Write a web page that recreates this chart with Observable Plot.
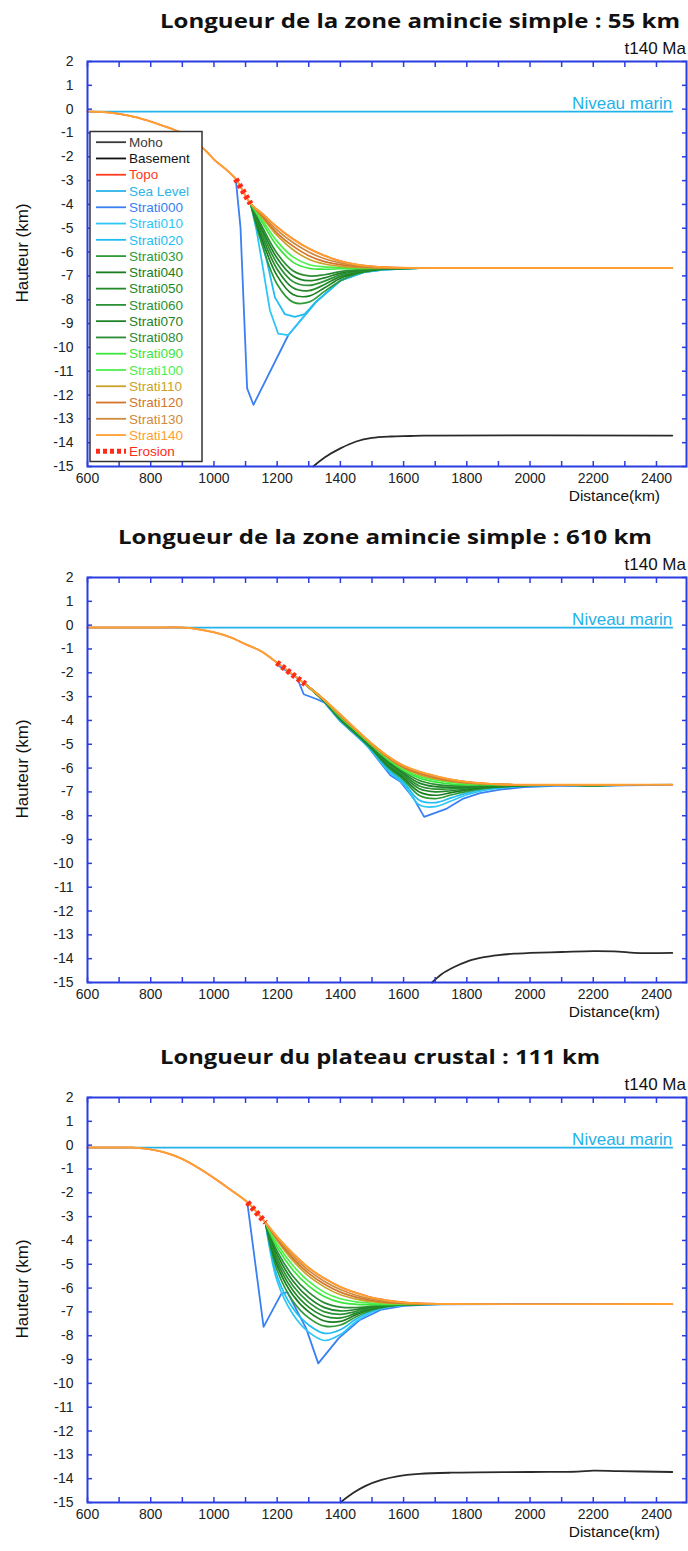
<!DOCTYPE html>
<html><head><meta charset="utf-8">
<script src="https://cdn.jsdelivr.net/npm/d3@7"></script>
<script src="https://cdn.jsdelivr.net/npm/@observablehq/plot@0.6"></script>
<style>
body{margin:0;background:#fff;width:688px;height:1551px;overflow:hidden;position:relative;font-family:"Liberation Sans",Arial,sans-serif}
.chart{position:absolute;left:0}
</style></head><body>
<div id="c1" class="chart" style="top:0px"></div>
<div id="c2" class="chart" style="top:516px"></div>
<div id="c3" class="chart" style="top:1036px"></div>
<script>
// ---------- shared categories ----------
const strataNames = ["Strati000","Strati010","Strati020","Strati030","Strati040","Strati050","Strati060","Strati070","Strati080","Strati090","Strati100","Strati110","Strati120","Strati130","Strati140"];
const strataColors = ["#3a80f2","#2ec6f7","#1fbdf0","#2e9a38","#1a7e20","#238a2a","#2a9234","#1d8326","#2b8c34","#3ae63a","#4cf04c","#c9a227","#d3762c","#cf8a3c","#ffa030"];
const legendNames = ["Moho","Basement","Topo","Sea Level"].concat(strataNames, ["Erosion"]);
const legendColors = ["#3a3a3a","#111111","#ff3b1f","#2ab4e8"].concat(strataColors, ["#ff2a1a"]);
const yTicks = [2,1,0,-1,-2,-3,-4,-5,-6,-7,-8,-9,-10,-11,-12,-13,-14,-15];
const xMinorTicks = [600,700,800,900,1000,1100,1200,1300,1400,1500,1600,1700,1800,1900,2000,2100,2200,2300,2400];
const xLabelTicks = [600,800,1000,1200,1400,1600,1800,2000,2200,2400];
const seaX = [600, 2450];
const seaY = [-0.1, -0.1];
const seaLabel = [{x: 2450, y: -0.1, t: "Niveau marin"}];

// ---------- chart 1 ----------
const c1Title = "Longueur de la zone amincie simple : 55 km";
const c1TopoLeftX = [600,650,700,750,800,850,890,940,978,1003,1040,1069];
const c1TopoLeftY = [-0.1,-0.12,-0.2,-0.33,-0.52,-0.75,-0.95,-1.35,-1.8,-2.15,-2.55,-2.93];
const c1ErosionX = [1069,1116];
const c1ErosionY = [-2.93,-3.97];
const c1S000X = [1069,1084,1105,1125,1235,1323,1401,1474,1537,1650,2450];
const c1S000Y = [-2.93,-4.96,-11.72,-12.41,-9.49,-8.09,-7.19,-6.84,-6.74,-6.67,-6.67];
const c1S010X = [1116,1135,1151,1177,1203,1235,1323,1401,1474,1537,1650];
const c1S010Y = [-3.97,-5.1,-6.35,-8.44,-9.42,-9.49,-8.09,-7.19,-6.84,-6.74,-6.67];
const c1S020X = [1116,1140,1167,1193,1224,1256,1287,1323,1401,1474,1537,1650];
const c1S020Y = [-3.97,-5.0,-6.35,-7.9,-8.6,-8.72,-8.6,-8.09,-7.19,-6.84,-6.74,-6.67];
const c1GridX = [1116,1150,1200,1250,1300,1350,1400,1450,1500,1550,1600,1650,1700,1750];
const c1S030 = [-3.97,-5.6,-7.35,-8.1,-8.1,-7.65,-7.2,-6.92,-6.78,-6.71,-6.68,-6.67,-6.67,-6.67];
const c1S040 = [-3.97,-5.4,-7.0,-7.78,-7.85,-7.5,-7.1,-6.88,-6.76,-6.7,-6.68,-6.67,-6.67,-6.67];
const c1S050 = [-3.97,-5.25,-6.72,-7.5,-7.62,-7.36,-7.02,-6.85,-6.75,-6.7,-6.68,-6.67,-6.67,-6.67];
const c1S060 = [-3.97,-5.1,-6.48,-7.24,-7.4,-7.22,-6.95,-6.82,-6.73,-6.69,-6.68,-6.67,-6.67,-6.67];
const c1S070 = [-3.97,-4.98,-6.26,-7.0,-7.2,-7.08,-6.88,-6.78,-6.72,-6.69,-6.67,-6.67,-6.67,-6.67];
const c1S080 = [-3.97,-4.87,-6.06,-6.78,-7.0,-6.95,-6.82,-6.75,-6.71,-6.68,-6.67,-6.67,-6.67,-6.67];
const c1S090 = [-3.97,-4.7,-5.75,-6.42,-6.68,-6.72,-6.7,-6.69,-6.68,-6.67,-6.67,-6.67,-6.67,-6.67];
const c1S100 = [-3.97,-4.6,-5.55,-6.2,-6.52,-6.62,-6.65,-6.66,-6.67,-6.67,-6.67,-6.67,-6.67,-6.67];
const c1S110 = [-3.97,-4.5,-5.3,-5.9,-6.3,-6.5,-6.6,-6.64,-6.66,-6.67,-6.67,-6.67,-6.67,-6.67];
const c1S120 = [-3.97,-4.45,-5.2,-5.75,-6.15,-6.4,-6.53,-6.6,-6.64,-6.66,-6.67,-6.67,-6.67,-6.67];
const c1S130 = [-3.97,-4.4,-5.08,-5.6,-6.0,-6.28,-6.45,-6.56,-6.62,-6.65,-6.66,-6.67,-6.67,-6.67];
const c1S140 = [-3.97,-4.35,-4.95,-5.45,-5.85,-6.15,-6.38,-6.52,-6.6,-6.64,-6.66,-6.67,-6.67,-6.67];
const c1MohoX = [1314,1350,1400,1450,1500,1560,1620,1660,2450];
const c1MohoY = [-15,-14.62,-14.24,-13.95,-13.8,-13.74,-13.72,-13.7,-13.7];

// ---------- chart 2 ----------
const c2Title = "Longueur de la zone amincie simple : 610 km";
const c2TopoLeftX = [600,700,800,900,950,1000,1050,1100,1150,1199];
const c2TopoLeftY = [-0.1,-0.1,-0.1,-0.1,-0.17,-0.3,-0.5,-0.8,-1.1,-1.57];
const c2ErosionX = [1199,1289];
const c2ErosionY = [-1.57,-2.48];
const c2S000X = [1199,1207,1263,1284,1326,1350,1400,1484,1558,1589,1631,1665,1737,1789,1842,1905,1980,2100,2200,2300,2450];
const c2S000Y = [-1.57,-1.72,-2.2,-2.9,-3.11,-3.25,-4.04,-5.05,-6.3,-6.56,-7.25,-8.05,-7.7,-7.28,-7.05,-6.9,-6.8,-6.74,-6.76,-6.72,-6.7];
const c2GridX = [1289,1347,1400,1450,1500,1550,1600,1650,1700,1750,1800,1850,1900,1950,2000,2100,2200,2300];
const c2S010 = [-2.48,-3.2,-4.02,-4.62,-5.3,-6.1,-6.68,-7.55,-7.62,-7.38,-7.12,-6.95,-6.85,-6.78,-6.74,-6.72,-6.74,-6.71];
const c2S020 = [-2.48,-3.19,-4.0,-4.6,-5.26,-6.03,-6.6,-7.35,-7.45,-7.25,-7.05,-6.9,-6.82,-6.77,-6.74,-6.72,-6.74,-6.71];
const c2S030 = [-2.48,-3.18,-3.98,-4.58,-5.22,-5.96,-6.5,-7.15,-7.28,-7.13,-6.98,-6.86,-6.8,-6.76,-6.73,-6.72,-6.74,-6.71];
const c2S040 = [-2.48,-3.17,-3.96,-4.56,-5.19,-5.9,-6.42,-7.0,-7.14,-7.03,-6.92,-6.82,-6.78,-6.75,-6.73,-6.71,-6.73,-6.7];
const c2S050 = [-2.48,-3.16,-3.94,-4.54,-5.16,-5.84,-6.35,-6.87,-7.0,-6.95,-6.87,-6.79,-6.76,-6.74,-6.72,-6.71,-6.73,-6.7];
const c2S060 = [-2.48,-3.15,-3.92,-4.52,-5.13,-5.78,-6.28,-6.75,-6.88,-6.87,-6.83,-6.77,-6.74,-6.73,-6.72,-6.71,-6.72,-6.7];
const c2S070 = [-2.48,-3.14,-3.9,-4.5,-5.1,-5.73,-6.22,-6.63,-6.78,-6.8,-6.79,-6.75,-6.73,-6.72,-6.71,-6.7,-6.72,-6.7];
const c2S080 = [-2.48,-3.14,-3.88,-4.48,-5.08,-5.68,-6.16,-6.52,-6.68,-6.74,-6.76,-6.73,-6.72,-6.72,-6.71,-6.7,-6.71,-6.7];
const c2S090 = [-2.48,-3.13,-3.86,-4.46,-5.06,-5.64,-6.1,-6.42,-6.58,-6.67,-6.7,-6.7,-6.7,-6.71,-6.7,-6.7,-6.7,-6.7];
const c2S100 = [-2.48,-3.13,-3.84,-4.44,-5.04,-5.6,-6.05,-6.35,-6.5,-6.6,-6.66,-6.68,-6.69,-6.7,-6.7,-6.7,-6.7,-6.7];
const c2S110 = [-2.48,-3.12,-3.82,-4.42,-5.02,-5.57,-6.0,-6.28,-6.45,-6.56,-6.63,-6.66,-6.68,-6.7,-6.7,-6.7,-6.7,-6.7];
const c2S120 = [-2.48,-3.12,-3.8,-4.41,-5.0,-5.54,-5.96,-6.22,-6.4,-6.53,-6.61,-6.65,-6.68,-6.7,-6.7,-6.7,-6.7,-6.7];
const c2S130 = [-2.48,-3.11,-3.78,-4.4,-4.99,-5.52,-5.93,-6.18,-6.36,-6.5,-6.6,-6.65,-6.68,-6.7,-6.7,-6.7,-6.7,-6.7];
const c2S140 = [-2.48,-3.11,-3.75,-4.38,-4.98,-5.5,-5.9,-6.15,-6.33,-6.48,-6.58,-6.64,-6.68,-6.7,-6.7,-6.7,-6.7,-6.7];
const c2MohoX = [1690,1720,1760,1800,1850,1900,1950,2000,2100,2200,2280,2330,2450];
const c2MohoY = [-15,-14.65,-14.35,-14.12,-13.95,-13.85,-13.79,-13.76,-13.72,-13.68,-13.7,-13.76,-13.76];

// ---------- chart 3 ----------
const c3Title = "Longueur du plateau crustal : 111 km";
const c3TopoLeftX = [600,700,740,800,850,900,950,1000,1050,1106];
const c3TopoLeftY = [-0.1,-0.1,-0.1,-0.18,-0.33,-0.58,-0.95,-1.38,-1.85,-2.4];
const c3ErosionX = [1106,1163];
const c3ErosionY = [-2.4,-3.25];
const c3S000X = [1106,1157,1213,1232,1292,1330,1395,1460,1530,1600,1700,2450];
const c3S000Y = [-2.45,-7.63,-6.24,-6.17,-7.7,-9.16,-8.1,-7.35,-6.9,-6.75,-6.68,-6.67];
const c3GridX = [1163,1200,1250,1300,1350,1400,1450,1500,1550,1600,1650,1700,1750];
const c3S010 = [-3.25,-5.7,-7.1,-7.85,-8.2,-7.95,-7.4,-7.0,-6.8,-6.72,-6.69,-6.68,-6.67];
const c3S020 = [-3.25,-5.5,-6.85,-7.55,-7.9,-7.75,-7.3,-6.95,-6.78,-6.71,-6.69,-6.68,-6.67];
const c3S030 = [-3.25,-5.25,-6.55,-7.25,-7.6,-7.55,-7.2,-6.92,-6.77,-6.7,-6.68,-6.67,-6.67];
const c3S040 = [-3.25,-5.05,-6.3,-7.0,-7.38,-7.4,-7.12,-6.88,-6.75,-6.7,-6.68,-6.67,-6.67];
const c3S050 = [-3.25,-4.9,-6.1,-6.8,-7.18,-7.25,-7.05,-6.85,-6.74,-6.69,-6.68,-6.67,-6.67];
const c3S060 = [-3.25,-4.75,-5.9,-6.6,-7.0,-7.1,-6.98,-6.82,-6.73,-6.69,-6.68,-6.67,-6.67];
const c3S070 = [-3.25,-4.6,-5.7,-6.4,-6.82,-6.96,-6.9,-6.79,-6.72,-6.69,-6.67,-6.67,-6.67];
const c3S080 = [-3.25,-4.45,-5.5,-6.18,-6.62,-6.8,-6.82,-6.76,-6.71,-6.68,-6.67,-6.67,-6.67];
const c3S090 = [-3.25,-4.28,-5.25,-5.92,-6.36,-6.6,-6.68,-6.7,-6.69,-6.68,-6.67,-6.67,-6.67];
const c3S100 = [-3.25,-4.15,-5.05,-5.72,-6.18,-6.45,-6.58,-6.64,-6.66,-6.67,-6.67,-6.67,-6.67];
const c3S110 = [-3.25,-4.0,-4.85,-5.5,-5.96,-6.28,-6.46,-6.57,-6.63,-6.65,-6.66,-6.67,-6.67];
const c3S120 = [-3.25,-3.95,-4.75,-5.38,-5.84,-6.17,-6.38,-6.52,-6.6,-6.64,-6.66,-6.67,-6.67];
const c3S130 = [-3.25,-3.9,-4.65,-5.27,-5.72,-6.06,-6.3,-6.46,-6.56,-6.62,-6.65,-6.67,-6.67];
const c3S140 = [-3.25,-3.85,-4.55,-5.15,-5.6,-5.95,-6.2,-6.4,-6.52,-6.6,-6.64,-6.66,-6.67];
const c3MohoX = [1400,1440,1480,1530,1580,1650,1750,2000,2150,2200,2280,2450];
const c3MohoY = [-15,-14.6,-14.3,-14.05,-13.9,-13.8,-13.75,-13.72,-13.7,-13.66,-13.68,-13.72];

// ---------- drawing ----------
const frameBlue = "#2a3de0";
const seaColor = "#22b2e8";

function pts(xs, ys, name) { return xs.map((x, i) => ({x, y: ys[i], name})); }

function buildChart(el, cfg) {
  const linearRows = [];
  cfg.custom.forEach(c => linearRows.push(...pts(c.x, c.y, c.name)));
  const gridRows = [];
  cfg.grid.forEach(g => gridRows.push(...pts(cfg.gridX, g.y, g.name)));
  const s140 = cfg.grid[cfg.grid.length - 1].y;
  const topX = cfg.topoLeftX.concat(cfg.gridX, [2450]);
  const topY = cfg.topoLeftY.concat(s140, [s140[s140.length - 1]]);
  const topRows = pts(topX, topY, "Strati140");
  const lowerGrid = gridRows.filter(d => d.name !== "Strati140");

  const svg = Plot.plot({
    width: 688, height: 517,
    marginTop: 61, marginBottom: 51, marginLeft: 87, marginRight: 2,
    x: {domain: [600, 2495]},
    y: {domain: [-15, 2]},
    color: {type: "ordinal", domain: strataNames, range: strataColors},
    style: {fontFamily: "Liberation Sans, Arial, sans-serif", fontSize: "14px", background: "white", overflow: "visible"},
    marks: [
      Plot.line(pts(cfg.mohoX, cfg.mohoY, "Moho"), {x: "x", y: "y", stroke: "#2a2a2a", strokeWidth: 1.8, curve: "catmull-rom"}),
      Plot.line(pts(seaX, seaY, "Sea Level"), {x: "x", y: "y", stroke: seaColor, strokeWidth: 1.8}),
      Plot.line(topRows, {x: "x", y: "y", stroke: "#ff3b1f", strokeWidth: 1.6, curve: "catmull-rom"}),
      Plot.line(linearRows, {x: "x", y: "y", z: "name", stroke: "name", strokeWidth: 1.8}),
      Plot.line(lowerGrid, {x: "x", y: "y", z: "name", stroke: "name", strokeWidth: 1.7, curve: "catmull-rom"}),
      Plot.line(topRows, {x: "x", y: "y", z: "name", stroke: "name", strokeWidth: 1.9, curve: "catmull-rom"}),
      Plot.line(pts(cfg.erosionX, cfg.erosionY, "Erosion"), {x: "x", y: "y", stroke: "#ff2a1a", strokeWidth: 6, strokeDasharray: "3.5,3", strokeLinecap: "butt"}),
      Plot.text(seaLabel, {x: "x", y: "y", text: "t", textAnchor: "end", lineAnchor: "bottom", dy: -3, fill: seaColor, fontSize: 17}),
      Plot.axisY({anchor: "left", ticks: yTicks, tickSize: -5, tickPadding: 19, tickFormat: d => String(d), stroke: frameBlue, strokeWidth: 1.5, fill: "#222", fontSize: 14, label: null}),
      Plot.axisY({anchor: "right", ticks: yTicks, tickSize: -5, tickFormat: () => "", stroke: frameBlue, strokeWidth: 1.5, label: null}),
      Plot.axisX({anchor: "bottom", ticks: xMinorTicks, tickSize: -5, tickFormat: () => "", stroke: frameBlue, strokeWidth: 1.5, label: null}),
      Plot.axisX({anchor: "bottom", ticks: xLabelTicks, tickSize: 0, tickPadding: 7, tickFormat: d => String(d), fill: "#222", fontSize: 14, label: null}),
      Plot.axisX({anchor: "top", ticks: xMinorTicks, tickSize: -5, tickFormat: () => "", stroke: frameBlue, strokeWidth: 1.5, label: null}),
      Plot.frame({stroke: frameBlue, strokeWidth: 2})
    ]
  });

  const s = d3.select(svg);
  s.append("text").attr("x", cfg.titleX).attr("y", 28).attr("text-anchor", "start")
    .attr("font-family", "Open Sans, Liberation Sans, sans-serif").attr("font-weight", 700).attr("font-size", 20)
    .attr("fill", "#111").attr("textLength", cfg.titleLen).attr("lengthAdjust", "spacingAndGlyphs").text(cfg.title);
  s.append("text").attr("x", 686).attr("y", 54).attr("text-anchor", "end")
    .attr("font-size", 17).attr("fill", "#111").text("t140 Ma");
  s.append("text").attr("transform", "translate(28,253) rotate(-90)").attr("text-anchor", "middle")
    .attr("font-size", 17).attr("fill", "#111").text("Hauteur (km)");
  s.append("text").attr("x", 660).attr("y", 501).attr("text-anchor", "end")
    .attr("font-size", 15.5).attr("fill", "#111").text("Distance(km)");

  if (cfg.legend) {
    const g = s.append("g");
    g.append("rect").attr("x", 90).attr("y", 131.5).attr("width", 112).attr("height", 330)
      .attr("fill", "white").attr("stroke", "#333").attr("stroke-width", 1.5);
    legendNames.forEach((n, i) => {
      const yy = 142.2 + i * 16.27;
      const col = legendColors[i];
      const isEro = n === "Erosion";
      g.append("line").attr("x1", 96).attr("x2", 126).attr("y1", yy).attr("y2", yy)
        .attr("stroke", col).attr("stroke-width", isEro ? 5 : 1.8)
        .attr("stroke-dasharray", isEro ? "4,3" : null);
      g.append("text").attr("x", 129).attr("y", yy).attr("dy", "0.35em").attr("text-anchor", "start")
        .attr("font-size", 13.5).attr("fill", col).text(n);
    });
  }
  document.getElementById(el).appendChild(svg);
}

function gridSeries(names, arrays) { return names.map((n, i) => ({name: n, y: arrays[i]})); }

buildChart("c1", {
  title: c1Title, titleX: 160, titleLen: 520, legend: true,
  topoLeftX: c1TopoLeftX, topoLeftY: c1TopoLeftY, erosionX: c1ErosionX, erosionY: c1ErosionY,
  mohoX: c1MohoX, mohoY: c1MohoY,
  custom: [{name: "Strati000", x: c1S000X, y: c1S000Y}, {name: "Strati010", x: c1S010X, y: c1S010Y}, {name: "Strati020", x: c1S020X, y: c1S020Y}],
  gridX: c1GridX,
  grid: gridSeries(strataNames.slice(3), [c1S030,c1S040,c1S050,c1S060,c1S070,c1S080,c1S090,c1S100,c1S110,c1S120,c1S130,c1S140])
});
buildChart("c2", {
  title: c2Title, titleX: 118, titleLen: 534, legend: false,
  topoLeftX: c2TopoLeftX, topoLeftY: c2TopoLeftY, erosionX: c2ErosionX, erosionY: c2ErosionY,
  mohoX: c2MohoX, mohoY: c2MohoY,
  custom: [{name: "Strati000", x: c2S000X, y: c2S000Y}],
  gridX: c2GridX,
  grid: gridSeries(strataNames.slice(1), [c2S010,c2S020,c2S030,c2S040,c2S050,c2S060,c2S070,c2S080,c2S090,c2S100,c2S110,c2S120,c2S130,c2S140])
});
buildChart("c3", {
  title: c3Title, titleX: 160, titleLen: 440, legend: false,
  topoLeftX: c3TopoLeftX, topoLeftY: c3TopoLeftY, erosionX: c3ErosionX, erosionY: c3ErosionY,
  mohoX: c3MohoX, mohoY: c3MohoY,
  custom: [{name: "Strati000", x: c3S000X, y: c3S000Y}],
  gridX: c3GridX,
  grid: gridSeries(strataNames.slice(1), [c3S010,c3S020,c3S030,c3S040,c3S050,c3S060,c3S070,c3S080,c3S090,c3S100,c3S110,c3S120,c3S130,c3S140])
});
</script></body></html>
